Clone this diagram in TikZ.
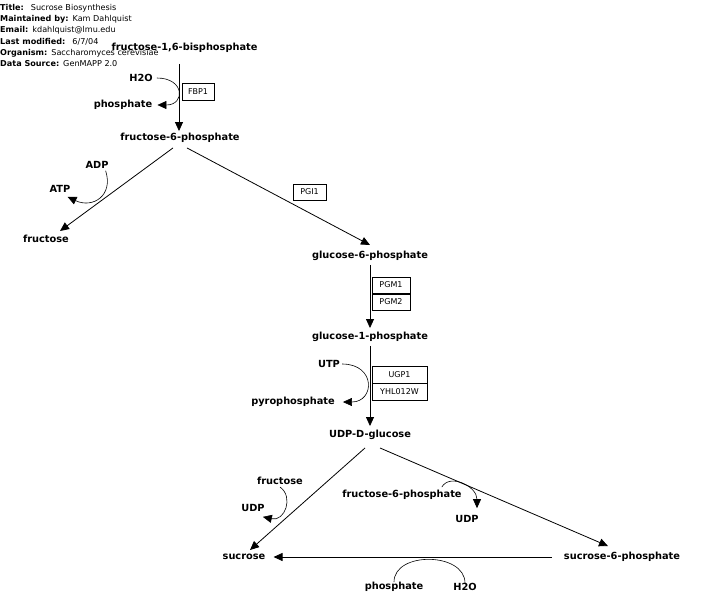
\documentclass[tikz,border=0pt]{standalone}
\usepackage{fontspec}
\setmainfont{DejaVu Sans}
\usetikzlibrary{arrows.meta,positioning}

\begin{document}
\begin{tikzpicture}[x=1pt,y=-1pt,
  metab/.style={font=\fontsize{9.8}{11}\selectfont\bfseries,inner sep=2pt},
  gene/.style={draw,line width=0.5pt,font=\fontsize{8}{9}\selectfont,minimum height=16.5pt,inner sep=1pt},
  hdr/.style={font=\fontsize{8.1}{9}\selectfont,anchor=west,inner sep=0pt},
  rxn/.style={-{Triangle[length=9pt,width=8pt]},line width=0.8pt},
  side/.style={-{Triangle[length=9pt,width=8pt]},line width=0.6pt}
]
  \useasboundingbox (0,0) rectangle (703,607);
  % header
  \node[hdr] (title) at (0,8) {\textbf{Title:}\hspace{7pt}Sucrose Biosynthesis};
  \node[hdr] (maint) at (0,19.2) {\textbf{Maintained by:}\hspace{4pt}Kam Dahlquist};
  \node[hdr] (email) at (0,30.4) {\textbf{Email:}\hspace{4pt}kdahlquist@lmu.edu};
  \node[hdr] (lastmod) at (0,41.6) {\textbf{Last modified:}\hspace{7pt}6/7/04};
  \node[hdr] (organism) at (0,52.8) {\textbf{Organism:}\hspace{4pt}Saccharomyces cerevisiae};
  \node[hdr] (source) at (0,64) {\textbf{Data Source:}\hspace{4pt}GenMAPP 2.0};
  % main metabolites
  \node[metab] (f16bp) at (184.5,48) {fructose-1,6-bisphosphate};
  \node[metab] (f6p) at (180,138) {fructose-6-phosphate};
  \node[metab] (fru) at (46,239) {fructose};
  \node[metab] (g6p) at (370,256) {glucose-6-phosphate};
  \node[metab] (g1p) at (370,337) {glucose-1-phosphate};
  \node[metab] (udpg) at (370,435) {UDP-D-glucose};
  \node[metab] (suc) at (244,557) {sucrose};
  \node[metab] (s6p) at (622,557) {sucrose-6-phosphate};
  % side metabolites
  \node[metab] (h2oa) at (141,78) {H2O};
  \node[metab] (pia) at (123,105) {phosphate};
  \node[metab] (adp) at (97,165) {ADP};
  \node[metab] (atp) at (60,189) {ATP};
  \node[metab] (utp) at (329,364) {UTP};
  \node[metab] (ppi) at (293,402) {pyrophosphate};
  \node[metab] (frub) at (280,481) {fructose};
  \node[metab] (udpa) at (253,508) {UDP};
  \node[metab] (f6pb) at (402,495) {fructose-6-phosphate};
  \node[metab] (udpb) at (467,519) {UDP};
  \node[metab] (pib) at (394,587) {phosphate};
  \node[metab] (h2ob) at (465,587) {H2O};
  % genes
  \node[gene,minimum width=32pt] (fbp1) at (198,92) {FBP1};
  \node[gene,minimum width=33pt] (pgi1) at (309.5,192) {PGI1};
  \node[gene,minimum width=38pt] (pgm1) at (391,285) {PGM1};
  \node[gene,minimum width=38pt,below=0pt of pgm1] (pgm2) {PGM2};
  \node[gene,minimum width=55pt] (ugp1) at (399.5,374.5) {UGP1};
  \node[gene,minimum width=55pt,below=0pt of ugp1] (yhl) {YHL012W};
  % reactions
  \draw[rxn] ([xshift=-5.5pt,yshift=-9pt]f16bp.south) -- ([xshift=-1pt]f6p.north);
  \draw[rxn] ([xshift=-7pt,yshift=-3pt]f6p.south) -- ([xshift=14pt,yshift=2pt]fru.north);
  \draw[rxn] ([xshift=7pt,yshift=-3pt]f6p.south) -- ([yshift=4pt]g6p.north);
  \draw[rxn] ([yshift=-2pt]g6p.south) -- ([yshift=2pt]g1p.north);
  \draw[rxn] ([yshift=-2pt]g1p.south) -- ([yshift=2pt]udpg.north);
  \draw[rxn] ([xshift=-5pt,yshift=-6pt]udpg.south) -- ([xshift=6pt,yshift=2pt]suc.north);
  \draw[rxn] ([xshift=10pt,yshift=-6pt]udpg.south) -- ([xshift=-14pt,yshift=4pt]s6p.north);
  \draw[rxn] ([xshift=-10pt]s6p.west) -- ([xshift=6pt]suc.east);
  % cofactors
  \draw[side] ([xshift=2pt]h2oa.east) .. controls +(28,0) and +(28,0) .. ([xshift=3pt]pia.east);
  \draw[side] ([xshift=-5pt]adp.south east) .. controls +(8,25) and +(25,12) .. ([xshift=-5pt,yshift=-2pt]atp.south east);
  \draw[side] (utp.east) .. controls +(34,0) and +(32,0) .. ([xshift=6pt]ppi.east);
  \draw[side] (frub.south) .. controls +(14,10) and +(22,5) .. ([xshift=-4pt,yshift=-3pt]udpa.south east);
  \draw[side] ([xshift=-22pt,yshift=1pt]f6pb.north east) .. controls +(8,-14) and +(0,-22) .. ([xshift=10pt,yshift=5pt]udpb.north);
  \draw[line width=0.6pt] ([yshift=-2pt]pib.north) .. controls +(0,-31) and +(0,-31) .. ([yshift=-2pt]h2ob.north);
\end{tikzpicture}
\end{document}
